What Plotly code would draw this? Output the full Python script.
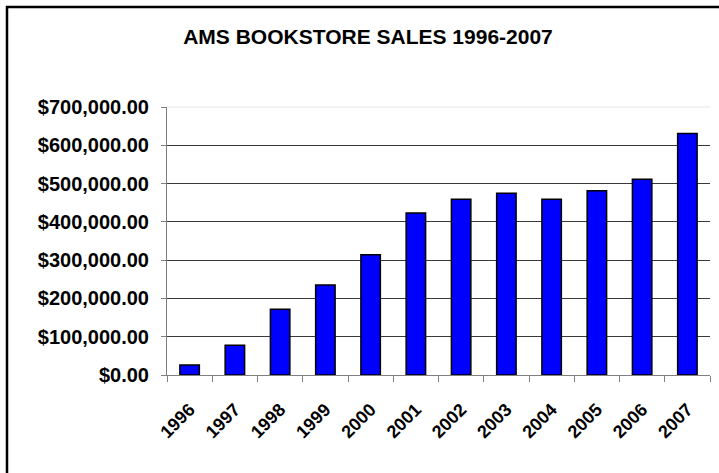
import plotly.graph_objects as go

years = ["1996", "1997", "1998", "1999", "2000", "2001", "2002",
         "2003", "2004", "2005", "2006", "2007"]
sales = [26000, 78000, 172000, 235000, 314000, 423000, 459000,
         475000, 459000, 481000, 511000, 631000]

W, H = 719, 473
L, R, T, B = 167, 9, 107, 98
pw, ph = W - L - R, H - T - B

def px_x(x):
    return (x - L) / pw

def px_y(y):
    return (H - B - y) / ph

font = "Liberation Sans, Arial, sans-serif"

fig = go.Figure(go.Bar(
    x=years, y=sales, width=0.43,
    marker=dict(color="#0000FF", line=dict(color="#000000", width=1.5)),
))

fig.update_layout(
    width=W, height=H,
    margin=dict(l=L, r=R, t=T, b=B),
    paper_bgcolor="white", plot_bgcolor="white",
    showlegend=False,
    title=dict(text="<b>AMS BOOKSTORE SALES 1996-2007</b>",
               x=368 / W, xanchor="center", xref="container",
               y=1 - 37 / H, yanchor="middle", yref="container",
               font=dict(family=font, size=21, color="#000000")),
    font=dict(family=font, color="#000000"),
    shapes=[
        dict(type="line", xref="paper", yref="paper",
             x0=px_x(6), x1=px_x(W), y0=px_y(7), y1=px_y(7),
             line=dict(color="#000000", width=2.5), layer="above"),
        dict(type="line", xref="paper", yref="paper",
             x0=px_x(7), x1=px_x(7), y0=px_y(6), y1=px_y(H),
             line=dict(color="#000000", width=2.5), layer="above"),
        dict(type="line", xref="paper", yref="paper",
             x0=0, x1=1, y0=1, y1=1,
             line=dict(color="#e6e6e6", width=1), layer="above"),
    ],
)

fig.update_yaxes(
    range=[0, 700000], dtick=100000, tick0=0,
    tickformat="$,.2f",
    showgrid=True, gridcolor="#3a3a3a", gridwidth=1,
    showline=True, linecolor="#808080", linewidth=1,
    ticks="outside", ticklen=5, tickcolor="#808080",
    ticklabelstandoff=8,
    tickfont=dict(family=font, size=20, color="#000000", weight="bold"),
    zeroline=False,
)
fig.update_xaxes(
    type="category", tickson="boundaries",
    showgrid=False,
    showline=True, linecolor="#808080", linewidth=1,
    ticks="outside", ticklen=6, tickcolor="#808080",
    tickangle=-45, ticklabelstandoff=16,
    tickfont=dict(family=font, size=18, color="#000000", weight="bold"),
)

fig.write_html(
    "out.html",
    config={"displayModeBar": False},
    post_script="document.body.style.margin='0';document.body.style.overflow='hidden';",
)
